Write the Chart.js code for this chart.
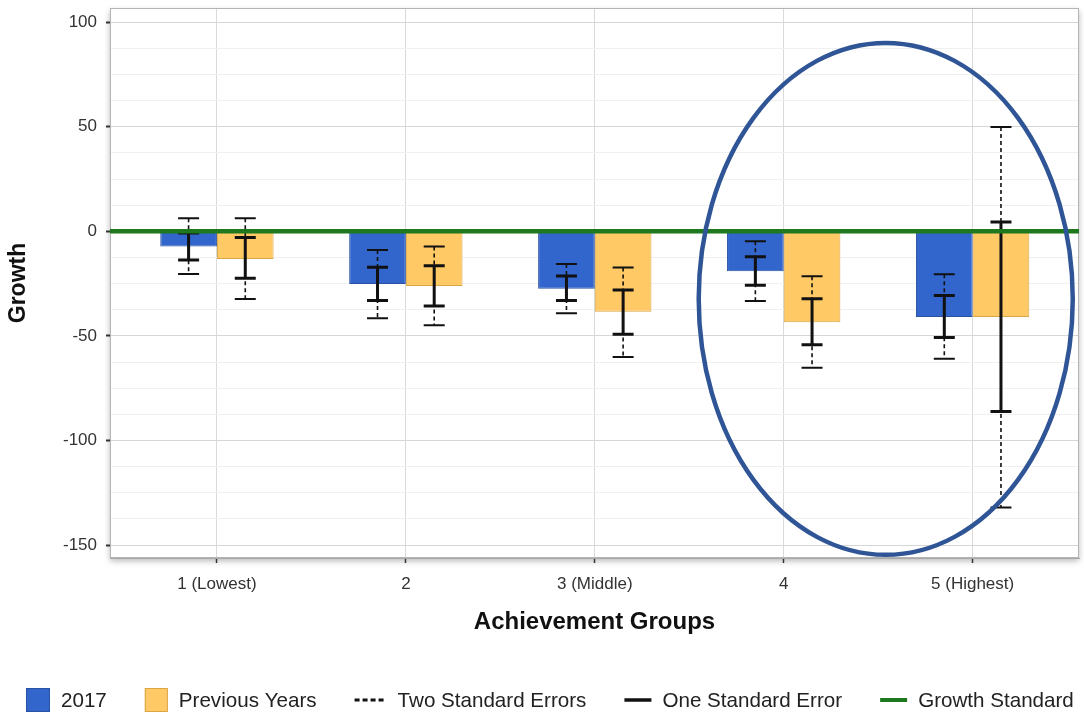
<!DOCTYPE html>
<html>
<head>
<meta charset="utf-8">
<title>Growth by Achievement Group</title>
<script src="https://cdn.jsdelivr.net/npm/chart.js@4"></script>
<style>
  html, body { margin: 0; padding: 0; background: #ffffff; }
  #wrap { width: 1084px; height: 715px; position: relative; }
</style>
</head>
<body>
<div id="wrap"><canvas id="growthChart"></canvas></div>
<script>
// ---- data ----
const categories = ['1 (Lowest)', '2', '3 (Middle)', '4', '5 (Highest)'];
const growth2017 = [-7.3, -25.2, -27.5, -19.1, -40.9];
const growthPrevious = [-13.2, -26.1, -38.4, -43.5, -40.9];

// error bar ends (one and two standard errors)
const oneSE2017Low   = [-13.7, -33.1, -33.1, -25.8, -50.8];
const oneSE2017High  = [-0.8, -17.2, -21.3, -12.2, -30.7];
const twoSE2017Low   = [-20.4, -41.6, -39.2, -33.3, -60.9];
const twoSE2017High  = [6.3, -8.9, -15.6, -4.7, -20.5];
const oneSEPrevLow   = [-22.4, -35.7, -49.2, -54.2, -86.2];
const oneSEPrevHigh  = [-3.0, -16.5, -28.0, -32.2, 4.5];
const twoSEPrevLow   = [-32.3, -44.9, -60.1, -65.2, -132.1];
const twoSEPrevHigh  = [6.3, -7.3, -17.3, -21.5, 49.9];

const growthStandard = 0;
const yTickLabels = [-150, -100, -50, 0, 50, 100];
const legendLabels = ['2017', 'Previous Years', 'Two Standard Errors', 'One Standard Error', 'Growth Standard'];

// axis extents
const xMin = -0.566, xMax = 4.563;
const yMin = -156.2, yMax = 106.8;
const yMinorStep = 12.5;

// highlighted region (in axis units)
const highlight = { x: 3.54, y: -32.3, rx: 0.99, ry: 122.4 };

// ---- styles ----
const FONT = "'Liberation Sans', Arial, Helvetica, sans-serif";
const BLUE = '#3366cc', BLUE_EDGE = '#2a52a3';
const GOLD = '#ffc966', GOLD_EDGE = '#d9a647';
const GREEN = '#1e781e';
const RING = '#2f5597';

Chart.defaults.font.family = FONT;

const errorSets = [
  { oneLow: oneSE2017Low, oneHigh: oneSE2017High, twoLow: twoSE2017Low, twoHigh: twoSE2017High },
  { oneLow: oneSEPrevLow, oneHigh: oneSEPrevHigh, twoLow: twoSEPrevLow, twoHigh: twoSEPrevHigh }
];

// white plot panel with a soft drop shadow
const panelPlugin = {
  id: 'panel',
  beforeDraw(chart) {
    const { ctx, chartArea: a } = chart;
    ctx.save();
    ctx.shadowColor = 'rgba(0,0,0,0.28)';
    ctx.shadowBlur = 6;
    ctx.shadowOffsetY = 3;
    ctx.fillStyle = '#ffffff';
    ctx.fillRect(a.left, a.top, a.right - a.left, a.bottom - a.top);
    ctx.restore();
  },
  beforeDatasetsDraw(chart) {
    const { ctx, chartArea: a } = chart;
    ctx.save();
    ctx.strokeStyle = '#b4b4b4';
    ctx.lineWidth = 1;
    ctx.strokeRect(a.left + 0.5, a.top + 0.5, a.right - a.left - 1, a.bottom - a.top - 1);
    ctx.restore();
  }
};

// error bars drawn just before the growth standard line
const errorBarPlugin = {
  id: 'errorBars',
  beforeDatasetDraw(chart, args) {
    if (args.meta.type !== 'line') return;
    const { ctx } = chart;
    const ys = chart.scales.y;
    const cap = 10.5;
    ctx.save();
    errorSets.forEach((set, di) => {
      const meta = chart.getDatasetMeta(di);
      meta.data.forEach((bar, i) => {
        const x = bar.x;
        const t2 = ys.getPixelForValue(set.twoHigh[i]);
        const b2 = ys.getPixelForValue(set.twoLow[i]);
        const t1 = ys.getPixelForValue(set.oneHigh[i]);
        const b1 = ys.getPixelForValue(set.oneLow[i]);
        ctx.strokeStyle = '#111111';
        // two standard errors: dashed stem, thin caps
        ctx.lineWidth = 1.6;
        ctx.setLineDash([4, 3]);
        ctx.beginPath();
        ctx.moveTo(x, t2); ctx.lineTo(x, b2);
        ctx.stroke();
        ctx.setLineDash([]);
        ctx.lineWidth = 2;
        ctx.beginPath();
        ctx.moveTo(x - cap, t2); ctx.lineTo(x + cap, t2);
        ctx.moveTo(x - cap, b2); ctx.lineTo(x + cap, b2);
        ctx.stroke();
        // one standard error: solid stem and caps
        ctx.lineWidth = 3;
        ctx.beginPath();
        ctx.moveTo(x, t1); ctx.lineTo(x, b1);
        ctx.moveTo(x - cap, t1); ctx.lineTo(x + cap, t1);
        ctx.moveTo(x - cap, b1); ctx.lineTo(x + cap, b1);
        ctx.stroke();
      });
    });
    ctx.restore();
  }
};

// highlight ring and legend
const overlayPlugin = {
  id: 'overlay',
  afterDraw(chart) {
    const { ctx } = chart;
    const xs = chart.scales.x, ys = chart.scales.y;
    const cx = xs.getPixelForValue(highlight.x);
    const cy = ys.getPixelForValue(highlight.y);
    const rx = xs.getPixelForValue(highlight.x + highlight.rx) - cx;
    const ry = ys.getPixelForValue(highlight.y - highlight.ry) - cy;
    ctx.save();
    ctx.strokeStyle = RING;
    ctx.lineWidth = 4.5;
    ctx.beginPath();
    ctx.ellipse(cx, cy, rx, ry, 0, 0, Math.PI * 2);
    ctx.stroke();
    ctx.restore();

    // legend row
    const kinds = [
      { type: 'box', fill: BLUE, edge: BLUE_EDGE, w: 24 },
      { type: 'box', fill: GOLD, edge: GOLD_EDGE, w: 23 },
      { type: 'line', color: '#111111', w: 32, lw: 3, dash: [5, 3] },
      { type: 'line', color: '#111111', w: 27, lw: 3.5, dash: [] },
      { type: 'line', color: GREEN, w: 27, lw: 4, dash: [] }
    ];
    const ly = 700;
    let lx = 26;
    ctx.save();
    ctx.font = '20.6px ' + FONT;
    ctx.textBaseline = 'middle';
    ctx.textAlign = 'left';
    legendLabels.forEach((label, i) => {
      const k = kinds[i];
      if (k.type === 'box') {
        ctx.fillStyle = k.fill;
        ctx.fillRect(lx, ly - 12, k.w, 24);
        ctx.strokeStyle = k.edge;
        ctx.lineWidth = 1;
        ctx.strokeRect(lx + 0.5, ly - 11.5, k.w - 1, 23);
      } else {
        ctx.strokeStyle = k.color;
        ctx.lineWidth = k.lw;
        ctx.setLineDash(k.dash);
        ctx.beginPath();
        ctx.moveTo(lx, ly); ctx.lineTo(lx + k.w, ly);
        ctx.stroke();
        ctx.setLineDash([]);
      }
      lx += k.w + 11;
      ctx.fillStyle = '#222222';
      ctx.fillText(label, lx, ly + 1);
      lx += ctx.measureText(label).width + 38;
    });
    ctx.restore();
  }
};

const isMajor = v => yTickLabels.includes(v);

new Chart(document.getElementById('growthChart'), {
  type: 'bar',
  data: {
    datasets: [
      {
        label: legendLabels[0],
        data: growth2017.map((v, i) => ({ x: i, y: v })),
        backgroundColor: BLUE,
        borderColor: BLUE_EDGE,
        borderWidth: 1,
        order: 1
      },
      {
        label: legendLabels[1],
        data: growthPrevious.map((v, i) => ({ x: i, y: v })),
        backgroundColor: GOLD,
        borderColor: GOLD_EDGE,
        borderWidth: 1,
        order: 1
      },
      {
        type: 'line',
        label: legendLabels[4],
        data: [{ x: xMin, y: growthStandard }, { x: xMax, y: growthStandard }],
        borderColor: GREEN,
        borderWidth: 4.5,
        pointRadius: 0,
        fill: false,
        order: 0
      }
    ]
  },
  options: {
    responsive: true,
    maintainAspectRatio: false,
    animation: false,
    categoryPercentage: 0.6,
    barPercentage: 1.0,
    layout: { padding: { left: 0, right: 5, top: 8, bottom: 73 } },
    plugins: {
      legend: { display: false },
      tooltip: { enabled: false }
    },
    scales: {
      x: {
        type: 'linear',
        min: xMin,
        max: xMax,
        offset: false,
        afterBuildTicks: s => { s.ticks = categories.map((_, i) => ({ value: i })); },
        afterFit: s => { s.height = 84; s.paddingLeft = 0; s.paddingRight = 0; },
        ticks: {
          callback: v => categories[v] ?? '',
          font: { size: 17 },
          color: '#333333',
          padding: 11,
          autoSkip: false,
          maxRotation: 0
        },
        grid: {
          color: '#dadada',
          tickColor: '#333333',
          tickLength: 5,
          tickWidth: 1.5,
          offset: false
        },
        border: { color: '#a8a8a8', width: 1 },
        title: {
          display: true,
          text: 'Achievement Groups',
          font: { size: 24, weight: 'bold' },
          color: '#111111',
          padding: { top: 0, bottom: 5 }
        }
      },
      y: {
        type: 'linear',
        min: yMin,
        max: yMax,
        afterBuildTicks: s => {
          const t = [];
          for (let v = yTickLabels[0]; v <= yTickLabels[yTickLabels.length - 1]; v += yMinorStep) t.push({ value: v });
          s.ticks = t;
        },
        afterFit: s => { s.width = 110; s.paddingTop = 0; s.paddingBottom = 0; },
        ticks: {
          callback: v => isMajor(v) ? String(v) : '',
          font: { size: 17 },
          color: '#333333',
          padding: 9,
          autoSkip: false
        },
        grid: {
          color: c => (c.tick && isMajor(c.tick.value)) ? '#d6d6d6' : '#f0f0f0',
          tickColor: c => (c.tick && isMajor(c.tick.value)) ? '#333333' : 'rgba(0,0,0,0)',
          tickLength: 4,
          tickWidth: 2
        },
        border: { color: '#a8a8a8', width: 1 },
        title: {
          display: true,
          text: 'Growth',
          font: { size: 23, weight: 'bold' },
          color: '#111111',
          padding: { top: 5, bottom: 0 }
        }
      }
    }
  },
  plugins: [panelPlugin, errorBarPlugin, overlayPlugin]
});
</script>
</body>
</html>
